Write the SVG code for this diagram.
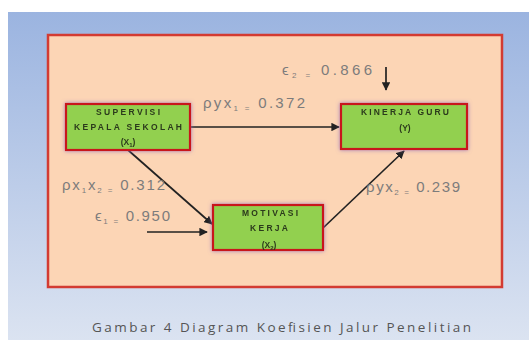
<svg xmlns="http://www.w3.org/2000/svg" width="529" height="340" viewBox="0 0 529 340">
  <defs>
    <linearGradient id="bg" x1="0" y1="0" x2="0" y2="1">
      <stop offset="0" stop-color="#9bb4e0"/>
      <stop offset="1" stop-color="#dbe3f1"/>
    </linearGradient>
    <filter id="glow" x="-20%" y="-30%" width="140%" height="160%">
      <feGaussianBlur in="SourceAlpha" stdDeviation="2.2" result="b"/>
      <feFlood flood-color="#8e6bb8" flood-opacity="0.8"/>
      <feComposite in2="b" operator="in" result="g"/>
      <feMerge><feMergeNode in="g"/><feMergeNode in="SourceGraphic"/></feMerge>
    </filter>
    <filter id="soft" x="-5%" y="-5%" width="110%" height="110%">
      <feGaussianBlur stdDeviation="0.6"/>
    </filter>
    <marker id="ah" viewBox="0 0 10 10" refX="9" refY="5" markerWidth="5" markerHeight="5" orient="auto">
      <path d="M0,0 L10,5 L0,10 z" fill="#222"/>
    </marker>
    <style>
      .node rect { fill: #92d050; stroke: #c8161d; stroke-width: 2.2; }
      .nt { font-family: "Liberation Sans", Arial, sans-serif; font-size: 8.5px; font-weight: bold; fill: #2c3a1c; text-anchor: middle; }
      .lbl { font-family: "Liberation Sans", Arial, sans-serif; font-size: 15px; fill: #7c7c7c; }
      .sub { font-size: 8px; }
      .edge { stroke: #222; stroke-width: 1.7; fill: none; marker-end: url(#ah); }
      .cap { font-family: "Open Sans", "Liberation Sans", sans-serif; font-size: 13.5px; fill: #555; }
    </style>
  </defs>

  <!-- slide background -->
  <rect x="0" y="0" width="529" height="340" fill="#ffffff"/>
  <rect x="8" y="12" width="521" height="328" fill="url(#bg)"/>

  <!-- outer panel -->
  <rect x="48" y="35" width="454" height="252" fill="#fcd5b5" stroke="#d33a32" stroke-width="2.5" filter="url(#soft)"/>

  <!-- connectors -->
  <g id="connectors">
    <line class="edge" x1="190" y1="127" x2="339" y2="127"/>
    <line class="edge" x1="128" y1="150" x2="212" y2="224"/>
    <line class="edge" x1="323" y1="228" x2="404" y2="151"/>
    <line class="edge" x1="147" y1="232" x2="207" y2="232"/>
    <line class="edge" x1="386" y1="67" x2="386" y2="90"/>
  </g>

  <!-- path coefficient labels -->
  <g id="labels">
    <text class="lbl" x="282" y="75" textLength="90" lengthAdjust="spacing">ϵ<tspan class="sub" dy="3">2 =</tspan><tspan dy="-3"> 0.866</tspan></text>
    <text class="lbl" x="203" y="108" textLength="102" lengthAdjust="spacing">ρyx<tspan class="sub" dy="3">1 =</tspan><tspan dy="-3"> 0.372</tspan></text>
    <text class="lbl" x="62" y="190" textLength="103" lengthAdjust="spacing">ρx<tspan class="sub" dy="3">1</tspan><tspan dy="-3">x</tspan><tspan class="sub" dy="3">2 =</tspan><tspan dy="-3"> 0.312</tspan></text>
    <text class="lbl" x="95" y="221" textLength="75" lengthAdjust="spacing">ϵ<tspan class="sub" dy="3">1 =</tspan><tspan dy="-3"> 0.950</tspan></text>
    <text class="lbl" x="366" y="192" textLength="94" lengthAdjust="spacing">ρyx<tspan class="sub" dy="3">2 =</tspan><tspan dy="-3"> 0.239</tspan></text>
  </g>

  <g id="supervisi" class="node" filter="url(#glow)">
    <rect x="66" y="104" width="124" height="46"/>
    <text class="nt" x="128" y="115" textLength="64" lengthAdjust="spacing">SUPERVISI</text>
    <text class="nt" x="128" y="130" textLength="108" lengthAdjust="spacing">KEPALA SEKOLAH</text>
    <text class="nt" x="128" y="145">(X<tspan font-size="6" dy="1.5">1</tspan><tspan dy="-1.5">)</tspan></text>
  </g>

  <g id="kinerja" class="node" filter="url(#glow)">
    <rect x="341" y="104" width="126" height="45"/>
    <text class="nt" x="405" y="115" textLength="88" lengthAdjust="spacing">KINERJA GURU</text>
    <text class="nt" x="405" y="131">(Y)</text>
  </g>

  <g id="motivasi" class="node" filter="url(#glow)">
    <rect x="213" y="205" width="110" height="45"/>
    <text class="nt" x="270" y="216" textLength="56" lengthAdjust="spacing">MOTIVASI</text>
    <text class="nt" x="269" y="231" textLength="38" lengthAdjust="spacing">KERJA</text>
    <text class="nt" x="269" y="248">(X<tspan font-size="6" dy="1.5">2</tspan><tspan dy="-1.5">)</tspan></text>
  </g>

  <text class="cap" x="92" y="332" textLength="379" lengthAdjust="spacing">Gambar 4 Diagram Koefisien Jalur Penelitian</text>
</svg>
